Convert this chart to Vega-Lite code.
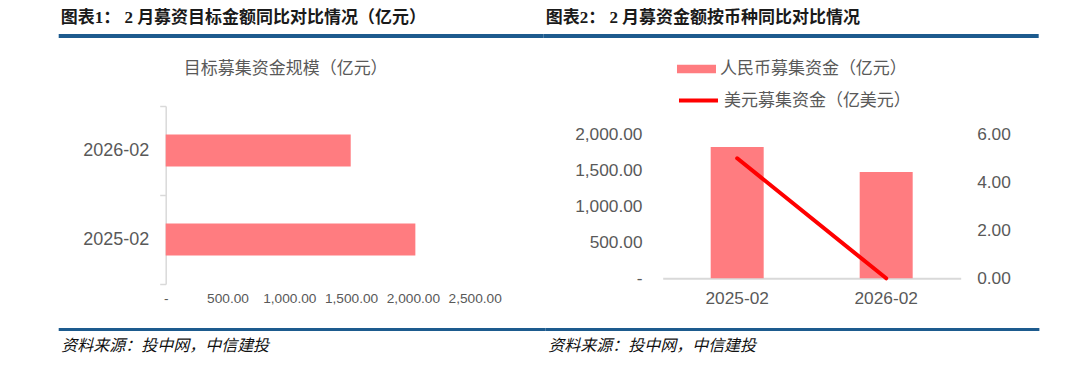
{
  "$schema": "https://vega.github.io/schema/vega-lite/v6.json",
  "background": "white",
  "padding": {"left": 58.7, "top": 8, "right": 0, "bottom": 12},
  "spacing": 21,
  "config": {"view": {"stroke": null}},
  "vconcat": [
    {
      "spacing": 0,
      "hconcat": [
        {
          "width": 485, "height": 4,
          "view": {"fill": "#1D5B8E", "stroke": null},
          "title": {"text": "图表1： 2 月募资目标金额同比对比情况（亿元）", "anchor": "start", "frame": "group", "dx": 2, "offset": 7.5, "font": "Liberation Serif, Noto Sans CJK SC", "fontSize": 17, "fontWeight": "bold", "color": "#1a1a1a"},
          "data": {"values": []},
          "mark": "rule",
          "encoding": {}
        },
        {
          "width": 495, "height": 4,
          "view": {"fill": "#1D5B8E", "stroke": null},
          "title": {"text": "图表2： 2 月募资金额按币种同比对比情况", "anchor": "start", "frame": "group", "dx": 2, "offset": 7.5, "font": "Liberation Serif, Noto Sans CJK SC", "fontSize": 17, "fontWeight": "bold", "color": "#1a1a1a"},
          "data": {"values": []},
          "mark": "rule",
          "encoding": {}
        }
      ]
    },
    {
      "spacing": 0,
      "hconcat": [
        {
          "width": 1, "height": 1,
          "data": {"values": []},
          "mark": "rule",
          "encoding": {}
        },
        {
          "width": 374, "height": 178,
          "title": {"text": "目标募集资金规模（亿元）", "fontSize": 17, "fontWeight": "normal", "color": "#595959", "font": "Noto Sans CJK SC", "anchor": "middle", "frame": "group", "dx": -67, "offset": 19.5},
          "data": {"values": [
            {"date": "2026-02", "amount": 1497},
            {"date": "2025-02", "amount": 2020}
          ]},
          "mark": {"type": "bar", "color": "#FF7C80", "height": {"band": 0.36}},
          "encoding": {
            "y": {
              "field": "date", "type": "nominal", "sort": ["2026-02", "2025-02"],
              "scale": {"paddingInner": 0, "paddingOuter": 0},
              "axis": {"title": null, "tickBand": "extent", "domainColor": "#D9D9D9", "domainWidth": 1.5, "tickColor": "#D9D9D9", "tickWidth": 1.5, "tickSize": 6, "labelPadding": 11, "labelFontSize": 18, "labelColor": "#595959", "labelFont": "Liberation Sans", "minExtent": 106, "maxExtent": 200}
            },
            "x": {
              "field": "amount", "type": "quantitative",
              "scale": {"domain": [0, 3026], "nice": false, "zero": true},
              "axis": {"title": null, "values": [0, 500, 1000, 1500, 2000, 2500], "labelExpr": "datum.value === 0 ? '-' : format(datum.value, ',.2f')", "domain": false, "ticks": false, "grid": false, "labelFlush": false, "labelFontSize": 13.7, "labelColor": "#595959", "labelPadding": 8, "labelFont": "Liberation Sans", "minExtent": 22}
            }
          }
        },
        {
          "width": 298, "height": 172.3,
          "data": {"values": [
            {"date": "2025-02", "rmb": 1823, "usd": 5.0},
            {"date": "2026-02", "rmb": 1476, "usd": 0.0}
          ]},
          "encoding": {
            "x": {
              "field": "date", "type": "nominal", "sort": ["2025-02", "2026-02"],
              "scale": {"paddingInner": 0, "paddingOuter": 0},
              "axis": {"title": null, "labelAngle": 0, "domainColor": "#D9D9D9", "domainWidth": 2, "ticks": false, "labelFontSize": 17.3, "labelColor": "#595959", "labelPadding": 11, "labelFont": "Liberation Sans"}
            }
          },
          "layer": [
            {
              "mark": {"type": "bar", "width": 53},
              "encoding": {
                "y": {
                  "field": "rmb", "type": "quantitative",
                  "scale": {"domain": [0, 2393], "nice": false},
                  "axis": {"title": null, "values": [0, 500, 1000, 1500, 2000], "labelExpr": "datum.value === 0 ? '-' : format(datum.value, ',.2f')", "domain": false, "ticks": false, "grid": false, "labelFontSize": 17.3, "labelColor": "#595959", "labelPadding": 20.7, "labelFont": "Liberation Sans", "minExtent": 123, "maxExtent": 200}
                },
                "fill": {
                  "datum": "人民币募集资金（亿元）",
                  "scale": {"range": ["#FF7C80"]},
                  "legend": {"orient": "none", "legendX": 618.3, "legendY": 15.5, "title": null, "symbolType": "M-1,-0.22H1V0.22H-1Z", "symbolSize": 1521, "symbolStrokeWidth": 0, "labelFontSize": 17, "labelColor": "#595959", "labelFont": "Noto Sans CJK SC", "labelOffset": 4, "labelLimit": 400, "padding": 0}
                }
              }
            },
            {
              "mark": {"type": "line", "strokeWidth": 4, "strokeCap": "round"},
              "encoding": {
                "y": {
                  "field": "usd", "type": "quantitative",
                  "scale": {"domain": [0, 7.18], "nice": false},
                  "axis": {"orient": "right", "title": null, "values": [0, 2, 4, 6], "format": ".2f", "domain": false, "ticks": false, "grid": false, "labelFontSize": 17.3, "labelColor": "#595959", "labelPadding": 16, "labelFont": "Liberation Sans"}
                },
                "stroke": {
                  "datum": "美元募集资金（亿美元）",
                  "scale": {"range": ["#FF0000"]},
                  "legend": {"orient": "none", "legendX": 618.3, "legendY": 45, "title": null, "symbolType": "stroke", "symbolSize": 1521, "symbolStrokeWidth": 4, "labelFontSize": 17, "labelColor": "#595959", "labelFont": "Noto Sans CJK SC", "labelOffset": 4, "labelLimit": 400, "padding": 0}
                }
              }
            }
          ],
          "resolve": {"scale": {"y": "independent"}}
        }
      ]
    },
    {
      "spacing": 0,
      "hconcat": [
        {
          "width": 487, "height": 3,
          "view": {"fill": "#1D5B8E", "stroke": null},
          "title": {"text": "资料来源：投中网，中信建投", "orient": "bottom", "anchor": "start", "frame": "group", "dx": 2.6, "offset": 7, "font": "Noto Sans CJK SC", "fontSize": 16, "fontStyle": "italic", "fontWeight": "normal", "color": "#111111"},
          "data": {"values": []},
          "mark": "rule",
          "encoding": {}
        },
        {
          "width": 493.7, "height": 3,
          "view": {"fill": "#1D5B8E", "stroke": null},
          "title": {"text": "资料来源：投中网，中信建投", "orient": "bottom", "anchor": "start", "frame": "group", "dx": 2.6, "offset": 7, "font": "Noto Sans CJK SC", "fontSize": 16, "fontStyle": "italic", "fontWeight": "normal", "color": "#111111"},
          "data": {"values": []},
          "mark": "rule",
          "encoding": {}
        }
      ]
    }
  ]
}
